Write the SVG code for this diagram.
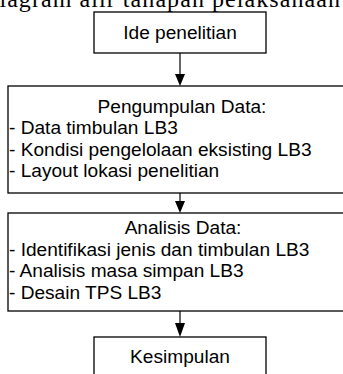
<svg xmlns="http://www.w3.org/2000/svg" width="343" height="374" viewBox="0 0 343 374">
<style>
.box{fill:#fff;stroke:#000;stroke-width:1.3}
.t{font-family:"Liberation Sans",Arial,sans-serif;font-size:19.1px;fill:#000}
.c{text-anchor:middle}
.ln{stroke:#000;stroke-width:1.2;fill:none}
.hd{fill:#000}
</style>
<rect width="343" height="374" fill="#fff"/>
<text x="-19" y="7" font-family="'Liberation Serif','Times New Roman',serif" font-size="24" textLength="359" lengthAdjust="spacing" fill="#000">Diagram alir tahapan pelaksanaan</text>
<g id="connectors">
<line class="ln" x1="180" y1="53" x2="180" y2="75"/>
<polygon class="hd" points="175,74 185,74 180,86"/>
<line class="ln" x1="180" y1="193" x2="180" y2="202"/>
<polygon class="hd" points="175,201 185,201 180,213"/>
<line class="ln" x1="180" y1="311" x2="180" y2="324"/>
<polygon class="hd" points="175,323 185,323 180,337"/>
</g>
<g id="ide">
<rect class="box" x="94" y="12" width="172" height="41"/>
<text class="t c" x="180" y="39">Ide penelitian</text>
</g>
<g id="pengumpulan">
<rect class="box" x="8" y="86" width="348" height="107"/>
<text class="t c" x="182" y="112.5">Pengumpulan Data:</text>
<text class="t" x="9" y="134">- Data timbulan LB3</text>
<text class="t" x="9" y="155.5">- Kondisi pengelolaan eksisting LB3</text>
<text class="t" x="9" y="177">- Layout lokasi penelitian</text>
</g>
<g id="analisis">
<rect class="box" x="8" y="213" width="348" height="98"/>
<text class="t c" x="183" y="234">Analisis Data:</text>
<text class="t" x="9" y="255.5">- Identifikasi jenis dan timbulan LB3</text>
<text class="t" x="9" y="277">- Analisis masa simpan LB3</text>
<text class="t" x="9" y="298.5">- Desain TPS LB3</text>
</g>
<g id="kesimpulan">
<rect class="box" x="94" y="337" width="172" height="50"/>
<text class="t c" x="180" y="363">Kesimpulan</text>
</g>
</svg>
